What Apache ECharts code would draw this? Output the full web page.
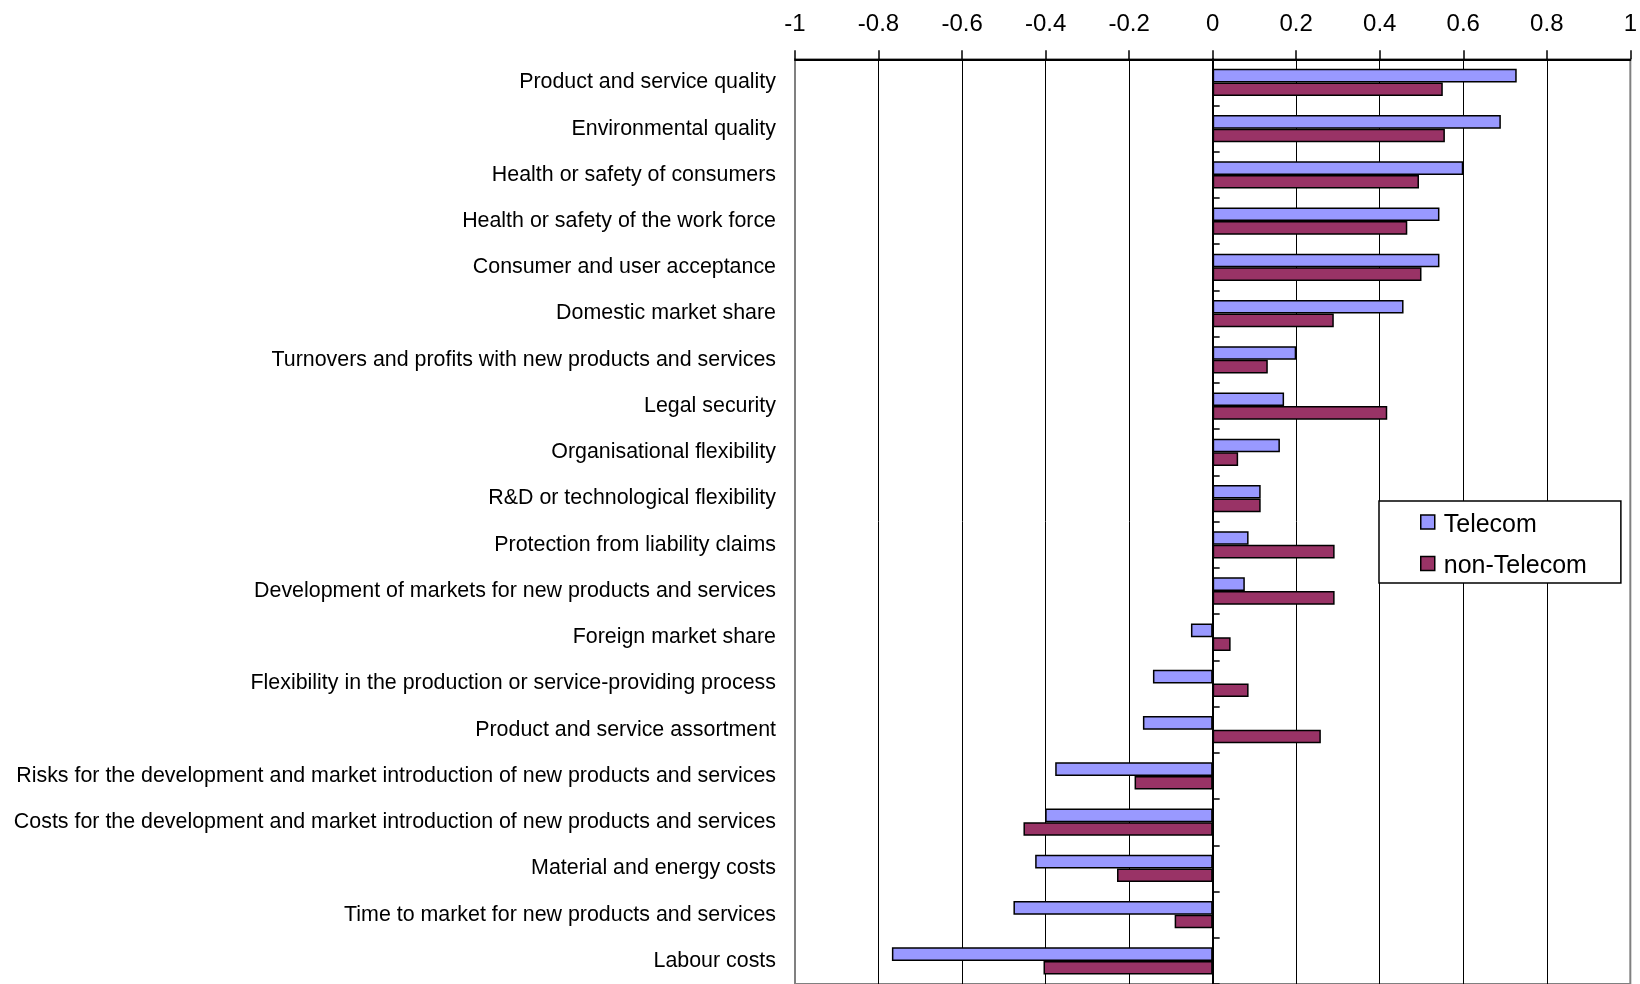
<!DOCTYPE html>
<html>
<head>
<meta charset="utf-8">
<script src="https://cdn.jsdelivr.net/npm/echarts@6/dist/echarts.min.js"></script>
<style>
  html, body { margin: 0; padding: 0; background: #fff; }
  #chart { width: 1640px; height: 984px; }
</style>
</head>
<body>
<div id="chart"></div>
<script>
// Factors, listed top to bottom
const categories = [
  'Product and service quality',
  'Environmental quality',
  'Health or safety of consumers',
  'Health or safety of the work force',
  'Consumer and user acceptance',
  'Domestic market share',
  'Turnovers and profits with new products and services',
  'Legal security',
  'Organisational flexibility',
  'R&D or technological flexibility',
  'Protection from liability claims',
  'Development of markets for new products and services',
  'Foreign market share',
  'Flexibility in the production or service-providing process',
  'Product and service assortment',
  'Risks for the development and market introduction of new products and services',
  'Costs for the development and market introduction of new products and services',
  'Material and energy costs',
  'Time to market for new products and services',
  'Labour costs'
];

const telecom = [0.728, 0.69, 0.6, 0.543, 0.543, 0.457, 0.2, 0.171, 0.161, 0.115,
  0.086, 0.077, -0.052, -0.143, -0.167, -0.377, -0.401, -0.425, -0.477, -0.768];

const nonTelecom = [0.551, 0.556, 0.494, 0.466, 0.5, 0.29, 0.132, 0.418, 0.061, 0.115,
  0.292, 0.292, 0.043, 0.086, 0.259, -0.187, -0.453, -0.229, -0.091, -0.405];

const seriesNames = ['Telecom', 'non-Telecom'];
const axisMin = -1, axisMax = 1, axisStep = 0.2;

const FONT = '"Liberation Sans", Arial, sans-serif';

// Legend swatch: a 14x14 square sitting in the upper part of a 14x20 cell,
// so the label text lines up slightly below the swatch centre.
const SWATCH = 'path://M0,0L14,0L14,14L0,14Z M0,20L0,20';

const chart = echarts.init(document.getElementById('chart'), null, { renderer: 'canvas' });

chart.setOption({
  backgroundColor: '#ffffff',
  animation: false,
  grid: {
    left: 795, right: 4, top: 59.3, bottom: -2,
    show: true, borderColor: '#808080', borderWidth: 2, backgroundColor: 'transparent'
  },
  legend: {
    orient: 'vertical',
    left: 1379, top: 501,
    padding: [11.5, 34, 4, 41],
    backgroundColor: '#ffffff',
    borderColor: '#000000', borderWidth: 1.5,
    itemWidth: 14, itemHeight: 20, itemGap: 16.5,
    icon: SWATCH,
    itemStyle: { borderColor: '#000000', borderWidth: 1.5 },
    textStyle: { fontFamily: FONT, fontSize: 25, color: '#000', lineHeight: 25, padding: [0, 0, 0, 4] },
    data: seriesNames
  },
  xAxis: {
    type: 'value', position: 'top',
    min: axisMin, max: axisMax, interval: axisStep,
    axisLine: { show: true, lineStyle: { color: '#000', width: 2 } },
    axisTick: { show: true, length: 9, lineStyle: { color: '#000', width: 1.5 } },
    axisLabel: { fontFamily: FONT, fontSize: 24, color: '#000', margin: 23 },
    splitLine: { show: true, showMinLine: false, showMaxLine: false, lineStyle: { color: '#000', width: 1 } }
  },
  yAxis: [
    {
      // label column, right-aligned against the plot's left edge
      type: 'category', data: categories, inverse: true, position: 'left',
      axisLine: { show: false, onZero: false },
      axisTick: { show: false },
      axisLabel: { fontFamily: FONT, fontSize: 21.4, color: '#000', margin: 19 }
    },
    {
      // category axis line crossing at zero, with ticks between categories
      type: 'category', data: categories, inverse: true, position: 'left',
      axisLine: { show: true, onZero: true, lineStyle: { color: '#000', width: 2 } },
      axisTick: { show: true, inside: true, length: 7, lineStyle: { color: '#000', width: 1.5 } },
      axisLabel: { show: false }
    }
  ],
  series: [
    {
      name: seriesNames[0], type: 'bar', yAxisIndex: 0, data: telecom,
      barGap: '0%', barCategoryGap: '41%',
      itemStyle: { color: '#9999FF', borderColor: '#000', borderWidth: 1.5 }
    },
    {
      name: seriesNames[1], type: 'bar', yAxisIndex: 0, data: nonTelecom,
      barGap: '0%', barCategoryGap: '41%',
      itemStyle: { color: '#993366', borderColor: '#000', borderWidth: 1.5 }
    }
  ]
});
</script>
</body>
</html>
